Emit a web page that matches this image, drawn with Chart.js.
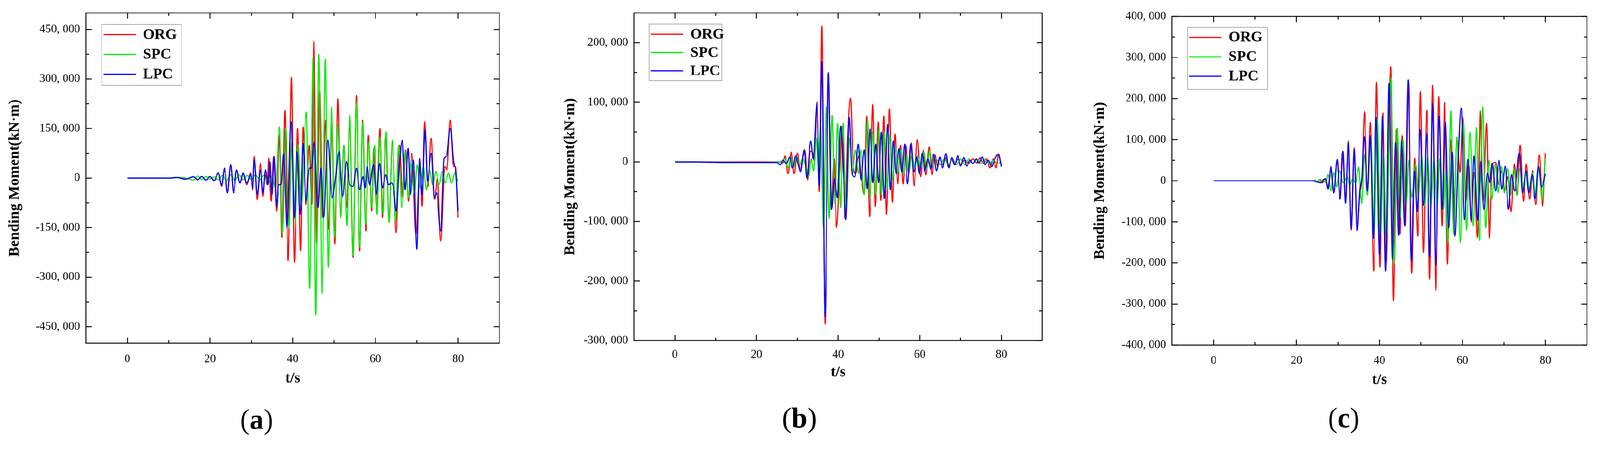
<!DOCTYPE html>
<html><head><meta charset="utf-8">
<script src="https://cdn.jsdelivr.net/npm/chart.js@4/dist/chart.umd.min.js"></script>
<style>
html,body{margin:0;padding:0;background:#fff;overflow:hidden}
#wrap{position:absolute;left:0;top:0;width:4277px;height:1186px;transform-origin:0 0}
canvas{position:absolute;top:0}
</style></head><body>
<div id="wrap">
<canvas id="ca" style="left:0px" width="1426" height="1186"></canvas>
<canvas id="cb" style="left:1426px" width="1426" height="1186"></canvas>
<canvas id="cc" style="left:2852px" width="1425" height="1186"></canvas>
</div>
<script>
// ---- data: [t (s), bending moment (x1000 kN·m)] ----
const seriesNames = ['ORG','SPC','LPC'];
const seriesColors = ['#ff0000','#00ee00','#0000ff'];
const xTicks = [0,20,40,60,80];
const xMinor = [10,30,50,70];

const yTicksA = [-450000,-300000,-150000,0,150000,300000,450000];
const yMinorA = [-375000,-225000,-75000,75000,225000,375000];
const yTicksB = [-300000,-200000,-100000,0,100000,200000];
const yMinorB = [-250000,-150000,-50000,50000,150000];
const yTicksC = [-400000,-300000,-200000,-100000,0,100000,200000,300000,400000];
const yMinorC = [-350000,-250000,-150000,-50000,50000,150000,250000,350000];

const orgA = [[0,0],[10,0],[12,2],[14,-3],[16,4],[17,-5],[18,5],[19,-6],[20,5],[21,-8],[22,15],[22.8,-25],[23.5,30],[24.2,-45],[25,40],[25.7,-45],[26.4,25],[27.2,-15],[28,15],[28.9,-20],[29.8,15],[30.3,-35],[30.7,65],[31.4,-65],[32.2,45],[32.8,-55],[33.3,10],[33.8,-20],[34.2,60],[34.8,-70],[35.4,65],[36.1,-100],[36.8,130],[37.4,-180],[38.1,205],[38.9,-250],[39.7,305],[40.4,-255],[41.2,150],[41.9,-220],[42.5,155],[43.2,-80],[44.0,100],[44.6,-80],[45.1,415],[45.8,-200],[46.5,265],[47.2,-120],[48,175],[48.6,-155],[49.5,170],[50.2,-200],[50.9,240],[51.6,-120],[52.4,100],[53,-90],[53.8,180],[54.6,-240],[55.4,250],[56.2,-220],[56.9,175],[57.7,-160],[58.3,130],[59.1,-100],[59.6,90],[60.3,-100],[61.1,150],[61.7,-120],[62.5,125],[63.3,-120],[64.1,110],[65,-165],[65.8,100],[66.6,-60],[67.3,85],[68,-70],[68.8,75],[69.8,-170],[70.8,50],[71.3,-85],[71.9,170],[72.7,-25],[73.5,120],[74.3,-65],[75,0],[75.8,-190],[76.8,35],[77.3,25],[78.1,175],[78.9,35],[79.4,35],[80,-120]];
const spcA = [[0,0],[10,0],[13,2],[15,-3],[16,-6],[17,6],[18,-4],[19,5],[20,-3],[21,4],[22,-5],[23,8],[24,-8],[25,10],[26,-8],[27,10],[28,-5],[29,8],[30,-5],[31,10],[32,-5],[33,8],[34,-15],[35,5],[35.8,-30],[36.8,155],[37.5,-170],[38.3,150],[39.1,-150],[39.8,110],[40.6,-130],[41.3,100],[42.1,-80],[43.3,200],[44.1,-335],[44.9,365],[45.6,-415],[46.3,375],[47.1,-350],[47.9,360],[48.6,-270],[49.4,215],[50.1,-180],[50.9,160],[51.6,-120],[52.4,100],[53.1,-145],[53.8,190],[54.6,-235],[55.4,230],[56.2,-210],[56.9,170],[57.6,-140],[58.4,110],[59.1,-90],[59.8,100],[60.4,-110],[61.1,125],[61.8,-110],[62.6,140],[63.3,-135],[64.1,115],[64.9,-130],[65.6,100],[66.4,-90],[67.2,80],[68,-60],[68.6,50],[69.4,-45],[70.1,40],[70.8,-30],[71.6,35],[72.3,-35],[73.1,25],[73.9,-20],[74.6,20],[75.4,-20],[76.2,20],[76.9,-15],[77.7,15],[78.4,-15],[79.2,15],[80,-10]];
const lpcA = [[0,0],[10,0],[12,2],[14,-3],[16,4],[17,-5],[18,5],[19,-6],[20,5],[21,-8],[22,15],[22.8,-22],[23.5,30],[24.2,-45],[25,40],[25.7,-45],[26.4,25],[27.2,-15],[28,15],[28.9,-15],[29.8,10],[30.3,-30],[30.7,55],[31.4,-50],[32.2,25],[32.8,-45],[33.4,25],[34,-20],[34.5,50],[35,-50],[35.5,65],[36.1,-85],[36.6,-20],[37.2,-20],[37.8,75],[38.6,-150],[39.6,170],[40.4,-120],[41.0,80],[41.8,-110],[42.5,105],[43.2,-70],[44.0,30],[44.5,30],[45.2,110],[46.1,-90],[46.8,30],[47.5,-120],[48.5,115],[49.5,-60],[50.4,5],[51.2,80],[52.1,-55],[53.0,50],[53.8,-20],[54.6,-25],[55.4,30],[56.2,-35],[57,5],[57.5,-30],[58,35],[58.6,-20],[59.5,40],[60.2,-50],[61,45],[61.7,-30],[62.5,10],[63.2,-20],[63.9,-15],[64.4,-30],[65,-100],[65.8,40],[66.5,115],[67.2,-35],[67.9,90],[68.5,-50],[69.2,55],[70,-215],[70.7,60],[71.3,-50],[72,145],[72.6,-10],[73.5,75],[74.3,-60],[74.8,-45],[75.8,-160],[76.6,60],[77.2,65],[78.1,150],[78.9,50],[79.5,15],[80,-100]];

const orgB = [[0,0],[26,0],[26.5,-2],[27,10],[27.7,-20],[28.5,17],[29.2,-20],[30,15],[30.7,-15],[31.3,5],[31.8,20],[32.5,-30],[33.2,18],[33.8,15],[34.2,0],[34.8,100],[35.4,-50],[36.0,228],[36.8,-272],[37.6,145],[38.3,-80],[39,5],[39.6,-110],[40.3,-30],[41,60],[41.7,-95],[42.3,35],[43,107],[43.7,-5],[44.3,-20],[45,10],[45.6,-20],[46.4,-55],[47.0,77],[47.7,-92],[48.5,96],[49.1,-75],[49.8,67],[50.5,-65],[51.2,77],[51.8,-88],[52.6,89],[53.3,-68],[53.9,47],[54.6,-37],[55.3,28],[55.9,-37],[56.6,28],[57.3,-20],[57.9,32],[58.6,-40],[59.4,37],[60.2,-25],[60.9,20],[61.5,-22],[62.3,25],[63,-22],[63.7,12],[64.4,-8],[64.9,8],[65.6,-5],[66.3,7],[67,-8],[67.8,5],[68.5,-5],[69.3,5],[70,-5],[71,3],[72,-3],[73,5],[74,-2],[74.8,7],[75.5,-3],[76.4,5],[77.2,-10],[78,5],[78.7,-10],[79.3,13],[80,-8]];
const spcB = [[0,0],[17,-1],[25,0],[26,1],[27,5],[27.7,-10],[28.4,8],[29,-10],[29.8,8],[30.6,-5],[31.3,5],[32,-5],[32.8,-25],[33.4,5],[34,-15],[34.6,40],[35.2,-15],[35.7,60],[36.4,-110],[37.1,92],[37.8,-95],[38.5,78],[39.2,-70],[39.9,65],[40.6,-77],[41.2,65],[42,-80],[42.8,40],[43.5,-20],[44.2,20],[45,-20],[45.5,20],[46.4,-55],[47.2,70],[47.8,-60],[48.5,50],[49.2,-55],[50,55],[50.6,-55],[51.3,50],[52,-45],[52.6,45],[53.3,-30],[54,25],[54.6,-20],[55.4,20],[56,-20],[56.7,15],[57.4,-15],[58,10],[58.8,-10],[59.5,10],[60.3,-10],[61,18],[61.7,-12],[62.4,18],[63.1,-8],[64,5],[65,-5],[66,5],[67,-5],[68,5],[69,-5],[70,5],[71,-5],[72,5],[73,-3],[74,5],[75,-3],[76,5],[77,-3],[78,3],[79,-3],[80,0]];
const lpcB = [[0,0],[5,0],[12,-1],[17,-1],[22,-1],[25,-1],[25.8,-5],[26.5,3],[27.3,-3],[28.1,8],[28.8,-10],[29.6,10],[30.2,-5],[30.8,-17],[31.7,20],[32.3,-27],[33.3,35],[33.9,5],[34.8,97],[35.4,-40],[36.0,168],[36.8,-260],[37.6,150],[38.4,-80],[39.1,-28],[39.8,-60],[40.6,60],[41.3,-20],[41.9,-97],[42.7,75],[43.4,-20],[44.1,-25],[44.9,30],[45.6,-30],[46.4,20],[47.1,-45],[47.8,55],[48.5,-35],[49.2,30],[49.9,-35],[50.6,50],[51.3,-62],[52.1,63],[52.8,-47],[53.5,35],[54.2,-20],[54.9,22],[55.6,-17],[56.3,30],[57,-37],[57.8,30],[58.5,-17],[59.3,8],[59.9,-20],[60.6,15],[61.2,-15],[62,5],[62.7,-12],[63.4,13],[64.1,-15],[64.9,8],[65.6,-10],[66.4,14],[67.1,-10],[67.9,7],[68.6,-5],[69.3,10],[70,-7],[70.8,7],[71.5,-7],[72.3,3],[73,-3],[73.8,5],[74.5,-2],[75.3,8],[76,-5],[76.8,3],[77.6,-8],[78.4,5],[79.2,13],[80,-8]];

const orgC = [[0,0],[24,0],[25,-3],[25.7,3],[26.3,-5],[27,5],[27.5,-15],[28.3,25],[29,-25],[29.8,50],[30.5,-40],[31.1,70],[31.8,-45],[32.5,97],[33.2,-120],[33.9,80],[34.6,-120],[35.2,-40],[35.8,10],[36.4,168],[37.1,-30],[37.8,142],[38.6,-220],[39.3,240],[40.1,-210],[40.8,165],[41.6,-200],[42.7,278],[43.4,-292],[44.1,125],[44.9,-130],[45.5,110],[46.2,-110],[47.0,240],[47.8,-225],[48.5,55],[49.2,-135],[49.9,217],[50.6,-175],[51.4,172],[52.1,-240],[52.8,232],[53.6,-267],[54.3,205],[55.1,-110],[55.7,190],[56.4,-203],[57.1,100],[57.9,-130],[58.7,100],[59.4,20],[60.1,155],[60.8,-50],[61.5,40],[62.1,-100],[62.8,20],[63.6,-138],[64.3,170],[65,-50],[65.8,140],[66.5,-140],[67.2,40],[68,45],[68.7,-10],[69.5,25],[70.2,-25],[71,10],[71.7,-75],[72.5,40],[73.2,-35],[73.9,87],[74.7,-50],[75.4,40],[76.2,-45],[76.9,25],[77.7,-58],[78.5,63],[79.3,-62],[80,67]];
const spcC = [[0,0],[24,0],[24.5,2],[25,-3],[25.5,3],[26,-4],[26.5,3],[27,-5],[27.6,15],[28.3,-25],[29,20],[29.7,-15],[30.3,25],[31.3,-5],[32.2,10],[32.9,-10],[33.5,5],[34.2,-5],[35,33],[35.7,-55],[36.4,65],[37.1,-35],[37.9,100],[38.7,-135],[39.5,150],[40.2,-135],[41,70],[41.7,-135],[42.8,250],[43.6,-200],[44.3,128],[45,-90],[45.7,100],[46.4,-60],[47.1,50],[47.8,-40],[48.7,40],[49.4,-40],[50.2,60],[50.9,-60],[51.6,60],[52.4,-60],[53.1,50],[53.9,-60],[54.6,55],[55.4,-70],[55.9,20],[56.5,-150],[57.2,170],[57.9,-130],[58.7,107],[59.5,-150],[60.3,140],[61,-120],[61.8,118],[62.6,-110],[63.4,130],[64.1,-145],[64.9,180],[65.6,-115],[66.4,50],[67.1,-45],[67.9,40],[68.6,-30],[69.4,35],[70.1,-30],[70.9,30],[71.6,-35],[72.4,30],[73.1,-35],[73.9,30],[74.7,-20],[75.4,20],[76.2,-20],[76.9,20],[77.7,-40],[78.4,30],[79.2,-50],[80,55]];
const lpcC = [[0,0],[24,0],[25,-3],[26,-5],[26.5,3],[27,5],[27.6,-20],[28.3,35],[29,-30],[29.8,52],[30.5,-45],[31.2,72],[31.8,-55],[32.5,95],[33.2,-115],[33.9,75],[34.6,-122],[35.3,-20],[35.8,10],[36.3,108],[37.1,-25],[37.8,110],[38.5,-140],[39.2,155],[40,-180],[40.7,158],[41.5,-220],[42.3,238],[43.1,-190],[43.9,93],[44.6,-133],[45.3,98],[46.1,-110],[46.9,246],[47.7,-195],[48.4,24],[49.1,-75],[49.8,125],[50.6,-60],[51.4,115],[52.1,-185],[52.8,187],[53.6,-205],[54.4,157],[55.1,-70],[55.9,143],[56.7,-115],[57.5,70],[58.2,-135],[59.0,60],[59.7,177],[60.5,-95],[61.3,52],[62.1,-95],[62.8,60],[63.7,-97],[64.4,48],[65.2,-70],[66,18],[66.6,-5],[67.2,43],[68,-25],[68.8,50],[69.5,-20],[70.3,35],[71.1,-70],[71.8,15],[72.6,-25],[73.7,68],[74.5,-30],[75.3,25],[76,-30],[76.8,15],[77.5,-45],[78.3,35],[79.1,-15],[80,17]];

// ---- layout ----
const panels = [
  {id:'ca', data:[orgA,spcA,lpcA], yT:yTicksA, yM:yMinorA, ymin:-500000, ymax:500000,
   pad:{left:0,right:91,top:30}, yW:230, xH:268, tickPad:24, xTitleY:1013, yTitleX:40, cap:'a', capX:686, capY:1127,
   leg:{dx:42,dy:31,w:213,h:163,row:53}},
  {id:'cb', data:[orgB,spcB,lpcB], yT:yTicksB, yM:yMinorB, ymin:-300000, ymax:250000,
   pad:{left:0,right:66,top:29}, yW:269, xH:275, tickPad:19, xTitleY:997, yTitleX:1525-1426, cap:'b', capX:2137-1426, capY:1123,
   leg:{dx:40,dy:30,w:195,h:151,row:49}},
  {id:'cc', data:[orgC,spcC,lpcC], yT:yTicksC, yM:yMinorC, ymin:-400000, ymax:400000,
   pad:{left:0,right:35,top:44}, yW:281, xH:263, tickPad:23, xTitleY:1017, yTitleX:2941-2852, cap:'c', capX:3592-2852, capY:1123,
   leg:{dx:41,dy:29,w:214,h:166,row:52}}
];

const wrap=document.getElementById('wrap');
const sc=Math.min(window.innerWidth/4277, window.innerHeight/1186);
if(sc>0 && Math.abs(sc-1)>0.001) wrap.style.transform='scale('+sc+')';

const SERIF = '"Liberation Serif","DejaVu Serif",serif';
function fmt(v){
  if(v===0) return '0';
  const s = Math.abs(v).toLocaleString('en-US').replace(/,/g,', ');
  return (v<0?'-':'')+s;
}

panels.forEach(p=>{
  const deco = {
    id:'deco',
    afterDraw(chart){
      const c=chart.ctx, a=chart.chartArea, xs=chart.scales.x, ys=chart.scales.y;
      c.save();
      c.strokeStyle='#000'; c.lineWidth=2.5;
      c.strokeRect(a.left,a.top,a.right-a.left,a.bottom-a.top);
      const tick=(x1,y1,x2,y2)=>{c.beginPath();c.moveTo(x1,y1);c.lineTo(x2,y2);c.stroke();};
      xTicks.forEach(v=>{const x=xs.getPixelForValue(v);tick(x,a.bottom,x,a.bottom-15);tick(x,a.top,x,a.top+15);});
      xMinor.forEach(v=>{const x=xs.getPixelForValue(v);tick(x,a.bottom,x,a.bottom-8);tick(x,a.top,x,a.top+8);});
      p.yT.forEach(v=>{const y=ys.getPixelForValue(v);tick(a.left,y,a.left+15,y);tick(a.right,y,a.right-15,y);});
      p.yM.forEach(v=>{const y=ys.getPixelForValue(v);tick(a.left,y,a.left+8,y);tick(a.right,y,a.right-8,y);});
      const L=p.leg, bx=a.left+L.dx, by=a.top+L.dy;
      c.lineWidth=1; c.strokeStyle='#555'; c.fillStyle='#fff';
      c.fillRect(bx,by,L.w,L.h); c.strokeRect(bx,by,L.w,L.h);
      c.font='bold 40px '+SERIF; c.textBaseline='middle'; c.textAlign='left';
      chart.data.datasets.forEach((d,i)=>{
        const ry=by+27+i*L.row;
        c.strokeStyle=d.borderColor; c.lineWidth=3;
        tick(bx+5,ry,bx+91,ry);
        c.fillStyle='#000'; c.fillText(d.label,bx+110,ry+1);
      });
      c.fillStyle='#000'; c.textAlign='center';
      c.font='bold 40px '+SERIF;
      c.fillText('t/s',(a.left+a.right)/2,p.xTitleY);
      c.save(); c.translate(p.yTitleX,(a.top+a.bottom)/2); c.rotate(-Math.PI/2);
      c.fillText('Bending Moment(kN\u00b7m)',0,0); c.restore();
      c.font='76px '+SERIF; const wp=c.measureText('(').width;
      c.font='bold 76px '+SERIF; const wl=c.measureText(p.cap).width;
      let x0=p.capX-(wp*2+wl)/2; c.textAlign='left';
      c.font='76px '+SERIF; c.fillText('(',x0,p.capY);
      c.font='bold 76px '+SERIF; c.fillText(p.cap,x0+wp,p.capY);
      c.font='76px '+SERIF; c.fillText(')',x0+wp+wl,p.capY);
      c.restore();
    }
  };
  const order=[2,1,0];
  new Chart(document.getElementById(p.id),{
    type:'line',
    data:{datasets:p.data.map((s,i)=>({
      label:seriesNames[i], borderColor:seriesColors[i], backgroundColor:seriesColors[i],
      data:s.map(q=>({x:q[0],y:q[1]*1000})), borderWidth:3, pointRadius:0,
      cubicInterpolationMode:'monotone', fill:false, order:order[i]}))},
    options:{
      responsive:false, animation:false, devicePixelRatio:1,
      layout:{padding:{left:p.pad.left,right:p.pad.right,top:p.pad.top,bottom:0}},
      plugins:{legend:{display:false},tooltip:{enabled:false}},
      scales:{
        x:{type:'linear',min:-10,max:90,
           afterBuildTicks:s=>{s.ticks=xTicks.map(v=>({value:v}));},
           afterFit:s=>{s.height=p.xH;},
           grid:{display:false,drawTicks:false}, border:{display:false},
           ticks:{padding:p.tickPad,color:'#000',font:{family:SERIF,size:31},maxRotation:0,callback:v=>String(v)}},
        y:{type:'linear',min:p.ymin,max:p.ymax,
           afterBuildTicks:s=>{s.ticks=p.yT.map(v=>({value:v}));},
           afterFit:s=>{s.width=p.yW;},
           grid:{display:false,drawTicks:false}, border:{display:false},
           ticks:{padding:16,color:'#000',font:{family:SERIF,size:31},callback:v=>fmt(v)}}
      }
    },
    plugins:[deco]
  });
});
</script></body></html>
